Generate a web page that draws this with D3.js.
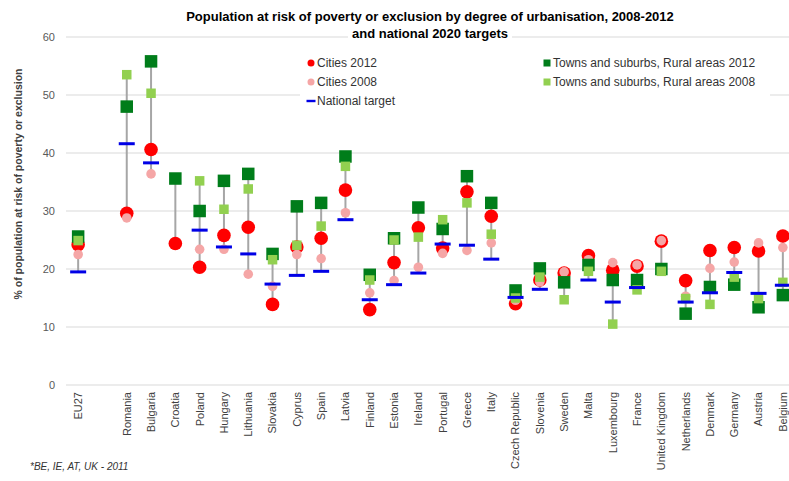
<!DOCTYPE html>
<html>
<head>
<meta charset="utf-8">
<script src="https://cdn.jsdelivr.net/npm/d3@7/dist/d3.min.js"></script>
<style>
  html, body { margin: 0; padding: 0; background: #fff; }
  svg { display: block; font-family: Arial, "Liberation Sans", sans-serif; }
</style>
</head>
<body>
<svg id="chart" width="789" height="481"></svg>
<script>
// Countries in display order; the empty slot separates EU27 from the member states
const categories = ["EU27", "", "Romania", "Bulgaria", "Croatia", "Poland", "Hungary", "Lithuania",
  "Slovakia", "Cyprus", "Spain", "Latvia", "Finland", "Estonia", "Ireland", "Portugal", "Greece",
  "Italy", "Czech Republic", "Slovenia", "Sweden", "Malta", "Luxembourg", "France",
  "United Kingdom", "Netherlands", "Denmark", "Germany", "Austria", "Belgium"];

const cities2012 = [24.2, null, 29.6, 40.6, 24.4, 20.3, 25.8, 27.2, 13.9, 23.8, 25.3, 33.6, 13.0, 21.1,
  27.1, 23.6, 33.3, 29.1, 14.0, 18.1, 19.3, 22.3, 19.8, 20.5, 24.8, 18.0, 23.2, 23.7, 23.1, 25.7];
const cities2008 = [22.5, null, 28.8, 36.4, null, 23.4, 23.4, 19.1, 17.0, 22.5, 21.8, 29.7, 15.9, 18.0,
  20.3, 22.7, 23.2, 24.5, 14.6, 17.8, 19.5, 21.6, 21.1, 20.7, 24.9, 15.3, 20.1, 21.2, 24.5, 23.7];
const towns2012 = [25.6, null, 48.0, 55.8, 35.6, 30.0, 35.2, 36.4, 22.6, 30.8, 31.4, 39.4, 19.0, 25.3,
  30.6, 26.9, 36.0, 31.4, 16.3, 20.1, 17.7, 20.7, 18.1, 18.1, 20.0, 12.3, 16.9, 17.3, 13.4, 15.5];
const towns2008 = [24.9, null, 53.5, 50.3, null, 35.2, 30.3, 33.8, 21.6, 24.1, 27.4, 37.7, 18.1, 25.0,
  25.5, 28.5, 31.4, 26.0, 15.0, 18.6, 14.7, 19.6, 10.5, 16.4, 19.6, 14.9, 13.9, 18.6, 14.9, 17.7];
const nationalTarget = [19.5, null, 41.6, 38.3, null, 26.7, 23.8, 22.6, 17.4, 18.9, 19.6, 28.5, 14.7, 17.3,
  19.3, 24.3, 24.1, 21.7, 15.1, 16.5, null, 18.1, 14.3, 16.8, null, 14.3, 15.9, 19.4, 15.8, 17.2];

const yTicks = [0, 10, 20, 30, 40, 50, 60];

const titleLines = ["Population at risk of poverty or exclusion by degree of urbanisation, 2008-2012",
  "and national 2020 targets"];
const yLabel = "% of population  at risk of poverty or exclusion";
const footnote = "*BE, IE, AT, UK - 2011";

const colors = {
  c12: "#ff0000", c08: "#f5a6a6", t12: "#007d1a", t08: "#92d050", target: "#0000e6", stem: "#a6a6a6"
};

const svg = d3.select("#chart");
const plot = { left: 66, top: 37, bottom: 385 };
const bandW = 24.3;
plot.right = plot.left + bandW * categories.length;

const x = d3.scaleBand().domain(categories).range([plot.left, plot.right]);
const y = d3.scaleLinear().domain([0, 60]).range([plot.bottom, plot.top]);
const cx = c => x(c) + x.bandwidth() / 2;

// Horizontal gridlines
svg.append("g").selectAll("line").data(yTicks).join("line")
  .attr("x1", plot.left).attr("x2", plot.right)
  .attr("y1", d => y(d)).attr("y2", d => y(d))
  .attr("stroke", "#d9d9d9").attr("stroke-width", 1);

// Y axis tick labels
const yAxis = svg.append("g").attr("transform", `translate(${plot.left},0)`)
  .call(d3.axisLeft(y).tickValues(yTicks).tickSize(0).tickPadding(11));
yAxis.select(".domain").remove();
yAxis.selectAll("text").attr("font-size", 11).attr("fill", "#595959")
  .attr("font-family", "Arial, 'Liberation Sans', sans-serif");

// Y axis title
svg.append("text")
  .attr("transform", "translate(22,184) rotate(-90)")
  .attr("text-anchor", "middle").attr("font-size", 10.5).attr("font-weight", "bold")
  .attr("fill", "#404040").text(yLabel);

// X axis category labels (rotated)
const xAxis = svg.append("g").attr("transform", `translate(0,${plot.bottom})`)
  .call(d3.axisBottom(x).tickSize(0));
xAxis.select(".domain").remove();
xAxis.selectAll("text")
  .attr("font-size", 11).attr("fill", "#404040")
  .attr("font-family", "Arial, 'Liberation Sans', sans-serif")
  .attr("text-anchor", "end")
  .attr("transform", "rotate(-90)")
  .attr("x", -7).attr("y", 0).attr("dy", "0.35em");

// Per-country records
const rows = categories.map((c, i) => ({
  c, c12: cities2012[i], c08: cities2008[i], t12: towns2012[i], t08: towns2008[i], tg: nationalTarget[i]
})).filter(r => r.c !== "");

// Range stems joining the lowest and highest value of each country
svg.append("g").selectAll("line").data(rows).join("line")
  .attr("x1", d => cx(d.c)).attr("x2", d => cx(d.c))
  .attr("y1", d => y(d3.max([d.c12, d.c08, d.t12, d.t08, d.tg].filter(v => v != null))))
  .attr("y2", d => y(d3.min([d.c12, d.c08, d.t12, d.t08, d.tg].filter(v => v != null))))
  .attr("stroke", colors.stem).attr("stroke-width", 2);

function circles(key, r, fill) {
  svg.append("g").selectAll("circle").data(rows.filter(d => d[key] != null)).join("circle")
    .attr("cx", d => cx(d.c)).attr("cy", d => y(d[key])).attr("r", r).attr("fill", fill);
}
function squares(key, s, fill) {
  svg.append("g").selectAll("rect").data(rows.filter(d => d[key] != null)).join("rect")
    .attr("x", d => cx(d.c) - s / 2).attr("y", d => y(d[key]) - s / 2)
    .attr("width", s).attr("height", s).attr("fill", fill);
}

circles("c12", 6.8, colors.c12);
circles("c08", 4.8, colors.c08);
squares("t12", 12.5, colors.t12);
squares("t08", 9.5, colors.t08);

// National target dashes
svg.append("g").selectAll("rect").data(rows.filter(d => d.tg != null)).join("rect")
  .attr("x", d => cx(d.c) - 8).attr("y", d => y(d.tg) - 1.5)
  .attr("width", 16).attr("height", 3).attr("fill", colors.target);

// Title with white backing
const titleG = svg.append("g");
titleLines.forEach((t, i) => {
  const txt = titleG.append("text")
    .attr("x", 430).attr("y", 21 + i * 17)
    .attr("text-anchor", "middle").attr("font-size", 13).attr("font-weight", "bold")
    .attr("fill", "#000").text(t);
  const bb = txt.node().getBBox();
  titleG.insert("rect", "text").attr("x", bb.x - 4).attr("y", bb.y).attr("width", bb.width + 8)
    .attr("height", bb.height).attr("fill", "#fff");
});

// Legend
const legend = svg.append("g");
legend.append("rect").attr("x", 300).attr("y", 53).attr("width", 470).attr("height", 58).attr("fill", "#fff");
const legendItems = [
  { label: "Cities 2012", type: "circle", color: colors.c12, x: 311, y: 63 },
  { label: "Cities 2008", type: "circle", color: colors.c08, x: 311, y: 82 },
  { label: "National target", type: "dash", color: colors.target, x: 311, y: 101 },
  { label: "Towns and suburbs, Rural areas 2012", type: "square", color: colors.t12, x: 547, y: 63 },
  { label: "Towns and suburbs, Rural areas 2008", type: "square", color: colors.t08, x: 547, y: 82 }
];
legendItems.forEach(d => {
  if (d.type === "circle") {
    legend.append("circle").attr("cx", d.x).attr("cy", d.y).attr("r", 3.5).attr("fill", d.color);
  } else if (d.type === "square") {
    legend.append("rect").attr("x", d.x - 3.5).attr("y", d.y - 3.5).attr("width", 7).attr("height", 7).attr("fill", d.color);
  } else {
    legend.append("rect").attr("x", d.x - 4.5).attr("y", d.y - 1.2).attr("width", 9).attr("height", 2.4).attr("fill", d.color);
  }
  legend.append("text").attr("x", d.x + 6).attr("y", d.y).attr("dy", "0.36em")
    .attr("font-size", 12).attr("fill", "#333").text(d.label);
});

// Footnote
svg.append("text").attr("x", 30).attr("y", 470).attr("font-size", 10)
  .attr("font-style", "italic").attr("fill", "#333").text(footnote);
</script>
</body>
</html>
